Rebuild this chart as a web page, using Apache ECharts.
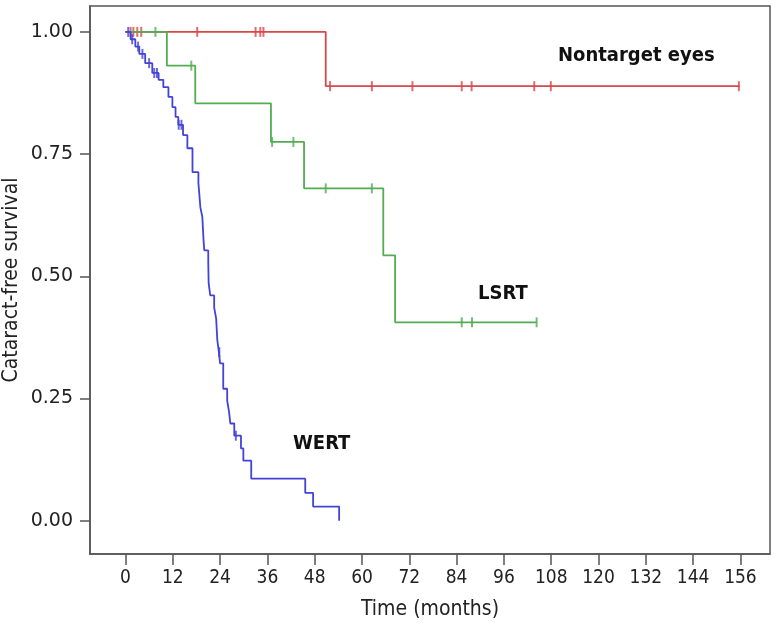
<!DOCTYPE html>
<html>
<head>
<meta charset="utf-8">
<script src="https://cdn.jsdelivr.net/npm/echarts@6/dist/echarts.min.js"></script>
<style>html,body{margin:0;padding:0;background:#fff}#c{width:783px;height:630px}</style>
</head>
<body>
<div id="c"></div>
<script>
// ---- data ----
const xTicks = [0,12,24,36,48,60,72,84,96,108,120,132,144,156];
const yTicks = [0,0.25,0.5,0.75,1];
const yTickLabels = ['0.00','0.25','0.50','0.75','1.00'];

const seriesNames = ['Nontarget eyes','LSRT','WERT'];

const nontargetTime = [0, 50.8, 155.8];
const nontargetSurv = [1.0, 0.889, 0.889];
const nontargetCensor = [1.3, 2.0, 3.0, 4.0, 18.2, 33.0, 34.2, 35.0, 51.9, 62.5, 72.8, 85.3, 87.8, 103.7, 107.9, 155.6];

const lsrtTime = [0, 10.5, 17.7, 36.9, 45.3, 65.4, 68.4, 104.3];
const lsrtSurv = [1.0, 0.931, 0.854, 0.775, 0.680, 0.543, 0.406, 0.406];
const lsrtCensor = [7.6, 16.7, 37.2, 42.6, 50.8, 62.5, 85.3, 87.9, 104.3];

const wertTime = [0, 1.3, 2.5, 3.5, 5.0, 6.8, 8.4, 9.6, 10.9, 11.9, 12.7, 13.4, 14.6, 15.7, 17.0, 18.5, 19.0, 19.5, 19.8, 20.0, 21.0, 21.1, 21.5, 22.5, 23.0, 23.3, 23.7, 24.0, 24.8, 25.8, 26.3, 26.6, 27.6, 29.3, 29.9, 31.9, 45.6, 47.6, 54.2];
const wertSurv = [1.0, 0.985, 0.970, 0.955, 0.936, 0.916, 0.902, 0.887, 0.867, 0.846, 0.826, 0.810, 0.789, 0.762, 0.713, 0.691, 0.641, 0.621, 0.574, 0.553, 0.529, 0.486, 0.461, 0.436, 0.414, 0.369, 0.345, 0.322, 0.270, 0.246, 0.221, 0.199, 0.174, 0.148, 0.123, 0.086, 0.057, 0.029, 0.0];
const wertCensor = [0.7, 1.7, 3.2, 4.3, 6.0, 7.3, 8.0, 13.5, 14.2, 23.8, 28.0];

const colors = ['#d9474a', '#52ad52', '#4343d8'];

// ---- build ----
function stepAt(times, surv, t) {
  let s = surv[0];
  for (let i = 0; i < times.length; i++) { if (times[i] <= t) s = surv[i]; }
  return s;
}
function pairs(times, surv) { return times.map((t, i) => [t, surv[i]]); }
function censorPts(c, times, surv) { return c.map(t => [t, stepAt(times, surv, t)]); }

const curves = [
  [nontargetTime, nontargetSurv, nontargetCensor],
  [lsrtTime, lsrtSurv, lsrtCensor],
  [wertTime, wertSurv, wertCensor]
];

const series = [];
curves.forEach((c, i) => {
  series.push({
    name: seriesNames[i], type: 'line', step: 'end', data: pairs(c[0], c[1]),
    symbol: 'none', lineStyle: { color: colors[i], width: 1.8 }, z: 3 + i, silent: true
  });
  series.push({
    name: seriesNames[i] + ' censored', type: 'scatter', data: censorPts(c[2], c[0], c[1]),
    symbol: 'rect', symbolSize: [2, 10], itemStyle: { color: colors[i] }, z: 3 + i, silent: true
  });
});

const chart = echarts.init(document.getElementById('c'), null, { renderer: 'canvas' });
const axisCol = '#555';
const narrow = '"DejaVu Sans Condensed", sans-serif';
chart.setOption({
  animation: false,
  grid: { left: 90, right: 13, top: 6, bottom: 76, show: true, borderColor: axisCol, borderWidth: 1.5, outerBoundsMode: 'none', containLabel: false },
  xAxis: {
    type: 'value', min: -9, max: 163.5,
    name: 'Time (months)', nameLocation: 'middle', nameGap: 45, nameMoveOverlap: false,
    nameTextStyle: { fontFamily: narrow, fontSize: 21, color: '#222' },
    axisLine: { show: true, onZero: false, lineStyle: { color: axisCol, width: 1.5 } },
    axisTick: { show: true, length: 11, customValues: xTicks, lineStyle: { color: axisCol, width: 1.5 } },
    axisLabel: { customValues: xTicks, margin: 15, fontFamily: narrow, fontSize: 19, color: '#222' },
    splitLine: { show: false }
  },
  yAxis: {
    type: 'value', min: -0.068, max: 1.053,
    name: 'Cataract-free survival', nameLocation: 'middle', nameGap: 68, nameMoveOverlap: false,
    nameTextStyle: { fontFamily: narrow, fontSize: 21, color: '#222' },
    axisLine: { show: true, onZero: false, lineStyle: { color: axisCol, width: 1.5 } },
    axisTick: { show: true, length: 10, customValues: yTicks, lineStyle: { color: axisCol, width: 1.5 } },
    axisLabel: {
      customValues: yTicks, margin: 17, fontFamily: 'DejaVu Sans', fontSize: 19, color: '#222',
      formatter: v => { const k = yTicks.findIndex(t => Math.abs(t - v) < 1e-6); return k >= 0 ? yTickLabels[k] : ''; }
    },
    splitLine: { show: false }
  },
  graphic: [
    { type: 'text', left: 558, top: 46, style: { text: seriesNames[0], font: 'bold 20px "DejaVu Sans Condensed"', fill: '#111' } },
    { type: 'text', left: 478, top: 284, style: { text: seriesNames[1], font: 'bold 20px "DejaVu Sans Condensed"', fill: '#111' } },
    { type: 'text', left: 293, top: 434, style: { text: seriesNames[2], font: 'bold 20px "DejaVu Sans Condensed"', fill: '#111' } }
  ],
  series: series
});
</script>
</body>
</html>
